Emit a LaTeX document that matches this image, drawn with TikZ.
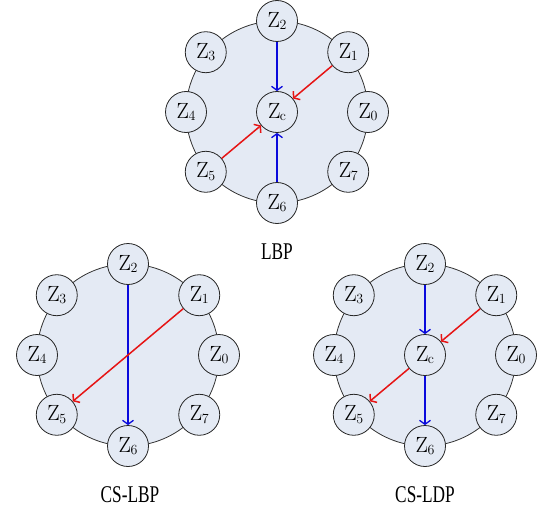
\documentclass[tikz,border=0pt]{standalone}
\usepackage{fontspec}
\usetikzlibrary{calc,arrows.meta}
\newfontfamily\lblfont{Liberation Serif}
\definecolor{fillc}{RGB}{228,234,244}
\definecolor{myblue}{RGB}{10,10,220}
\definecolor{myred}{RGB}{230,20,20}
\newcommand{\zl}[1]{{\fontsize{22}{22}\selectfont Z\kern-0.5pt\raisebox{-0.25ex}{\fontsize{14}{14}\selectfont #1}}}
\newcommand{\octo}[4]{%
  \coordinate (#1) at (#2pt,#3pt);
  \draw[ring] (#1) circle (91pt);
  \node[zn] (#1-0) at ($(#1)+(0:91pt)$) {\zl{0}};
  \node[zn] (#1-1) at ($(#1)+(40:93pt)$) {\zl{1}};
  \node[zn] (#1-2) at ($(#1)+(90:91pt)$) {\zl{2}};
  \node[zn] (#1-3) at ($(#1)+(140:93pt)$) {\zl{3}};
  \node[zn] (#1-4) at ($(#1)+(180:91pt)$) {\zl{4}};
  \node[zn] (#1-5) at ($(#1)+(220:93pt)$) {\zl{5}};
  \node[zn] (#1-6) at ($(#1)+(270:91pt)$) {\zl{6}};
  \node[zn] (#1-7) at ($(#1)+(320:93pt)$) {\zl{7}};
  \ifx#4y\node[zn] (#1-c) at (#1) {\zl{c}};\fi
}
\begin{document}
\begin{tikzpicture}[x=1pt,y=1pt,
  ring/.style={draw=black!80,line width=0.8pt,fill=fillc},
  zn/.style={circle,draw=black!85,line width=0.8pt,fill=fillc,minimum size=41pt,inner sep=0pt},
  barrow/.style={draw=myblue,line width=1.3pt,-{Straight Barb[length=4pt,width=11pt]}},
  rarrow/.style={draw=myred,line width=1.5pt,-{Straight Barb[length=4pt,width=11pt]}},
  lbl/.style={font=\lblfont\fontsize{24}{24}\selectfont,inner sep=0pt}]
\useasboundingbox (0,0) rectangle (540,507);
% top: LBP
\octo{T}{277}{395}{y}
\draw[barrow] (T-2) -- (T-c);
\draw[barrow] (T-6) -- (T-c);
\draw[rarrow] (T-1) -- (T-c);
\draw[rarrow] (T-5) -- (T-c);
\node[lbl] (tl) at (277,255) {\scalebox{0.72}[1]{LBP}};
% left: CS-LBP
\octo{L}{128}{152}{n}
\draw[barrow] (L-2) -- (L-6);
\draw[rarrow] (L-1) -- (L-5);
\node[lbl] (ll) at (130,12) {\scalebox{0.72}[1]{CS-LBP}};
% right: CS-LDP
\octo{R}{425}{152}{y}
\draw[barrow] (R-2) -- (R-c);
\draw[barrow] (R-c) -- (R-6);
\draw[rarrow] (R-1) -- (R-c);
\draw[rarrow] (R-c) -- (R-5);
\node[lbl] (rl) at (425,12) {\scalebox{0.72}[1]{CS-LDP}};
\end{tikzpicture}
\end{document}
